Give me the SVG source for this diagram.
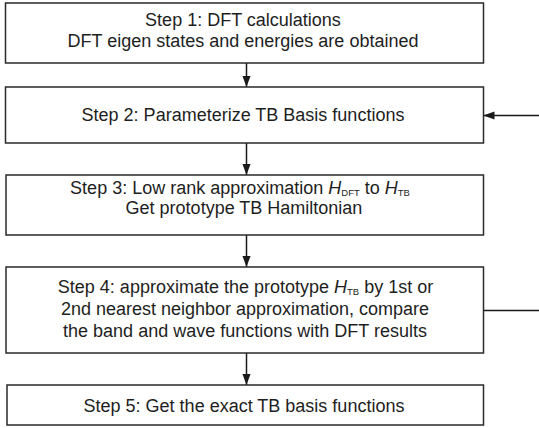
<svg xmlns="http://www.w3.org/2000/svg" width="539" height="428" viewBox="0 0 539 428">
<defs>
<marker id="ah" markerWidth="11" markerHeight="15" refX="15" refY="5.5" viewBox="0 0 15 11" markerUnits="userSpaceOnUse" orient="auto">
<path d="M0,0 L15,5.5 L0,11 Z" fill="#1a1a1a"/>
</marker>
</defs>
<style>
.box{fill:#fff;stroke:#2a2a2a;stroke-width:1.5}
.t{font-family:"Liberation Sans",Arial,sans-serif;font-size:18px;fill:#1e1e1e;text-anchor:middle}
.s{font-size:9.5px}
.c{stroke:#1a1a1a;stroke-width:1.5;fill:none}
</style>
<g id="connectors">
<line class="c" x1="246.5" y1="63" x2="246.5" y2="87" marker-end="url(#ah)"/>
<line class="c" x1="246.5" y1="143" x2="246.5" y2="175" marker-end="url(#ah)"/>
<line class="c" x1="246.5" y1="235" x2="246.5" y2="267" marker-end="url(#ah)"/>
<line class="c" x1="246.5" y1="353" x2="246.5" y2="385" marker-end="url(#ah)"/>
<line class="c" x1="539" y1="115.5" x2="483.5" y2="115.5" marker-end="url(#ah)"/>
<line class="c" x1="483.5" y1="310.5" x2="539" y2="310.5"/>
</g>
<g id="step1">
<rect class="box" x="5.5" y="3" width="478" height="60"/>
<text class="t" x="243" y="26">Step 1: DFT calculations</text>
<text class="t" x="243" y="47">DFT eigen states and energies are obtained</text>
</g>
<g id="step2">
<rect class="box" x="5.5" y="87" width="478" height="56"/>
<text class="t" x="243" y="121">Step 2: Parameterize TB Basis functions</text>
</g>
<g id="step3">
<rect class="box" x="6" y="175" width="477.5" height="60"/>
<text class="t" x="240" y="194">Step 3: Low rank approximation <tspan font-style="italic">H</tspan><tspan class="s" dy="2">DFT</tspan><tspan dy="-2"> to </tspan><tspan font-style="italic">H</tspan><tspan class="s" dy="2">TB</tspan></text>
<text class="t" x="244" y="214">Get prototype TB Hamiltonian</text>
</g>
<g id="step4">
<rect class="box" x="6" y="267" width="477.5" height="86"/>
<text class="t" x="245.5" y="292.5">Step 4: approximate the prototype <tspan font-style="italic">H</tspan><tspan class="s" dy="2">TB</tspan><tspan dy="-2"> by 1st or</tspan></text>
<text class="t" x="245" y="315">2nd nearest neighbor approximation, compare</text>
<text class="t" x="245" y="337">the band and wave functions with DFT results</text>
</g>
<g id="step5">
<rect class="box" x="7" y="385" width="476.5" height="40"/>
<text class="t" x="244" y="412">Step 5: Get the exact TB basis functions</text>
</g>
</svg>
